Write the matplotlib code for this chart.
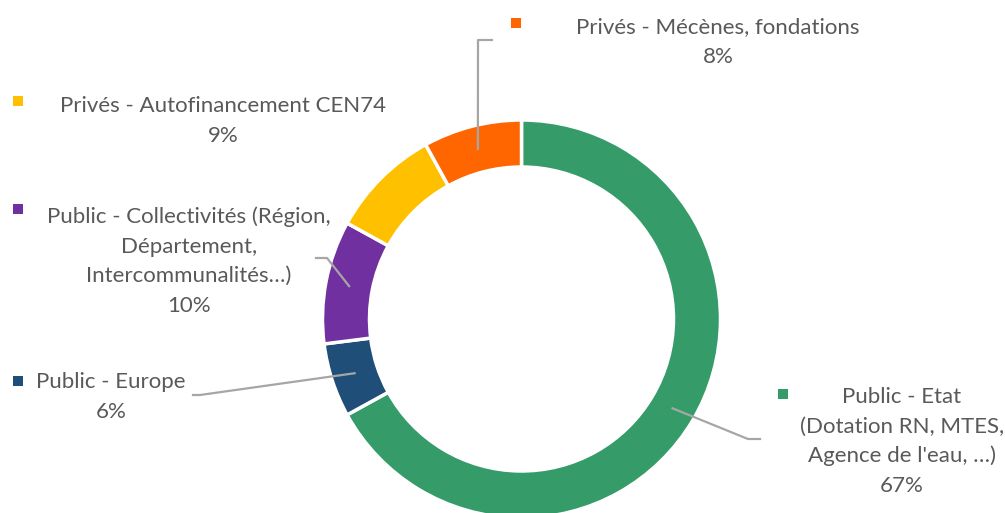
import numpy as np
import matplotlib
matplotlib.use("Agg")
import matplotlib.pyplot as plt

# ---- data ----
categories = [
    "Public - Etat\n(Dotation RN, MTES,\nAgence de l'eau, …)",
    "Public - Europe",
    "Public - Collectivités (Région,\nDépartement,\nIntercommunalités…)",
    "Privés - Autofinancement CEN74",
    "Privés - Mécènes, fondations",
]
values = [67, 6, 10, 9, 8]
colors = ["#359B69", "#1F4E79", "#7030A0", "#FFC000", "#FF6600"]

W, H = 1005, 513
fig = plt.figure(figsize=(W / 100, H / 100), dpi=100)
ax = fig.add_axes([0, 0, 1, 1])


def Y(y):
    return H - y


cx, cy = 521.5, 319
R = 199
width = 47
ax.pie(values, colors=colors, startangle=90, counterclock=False,
       center=(cx, Y(cy)), radius=R,
       wedgeprops=dict(width=width, edgecolor="white", linewidth=2.5),
       frame=True)
ax.set_xlim(0, W)
ax.set_ylim(0, H)
ax.set_aspect("equal")
ax.axis("off")

txt_color = "#595959"
line_color = "#A6A6A6"
font = "Lato"
fs = 16

# label layout: (text center x, first line y, square x, square y, elbow points)
layout = [
    (902, 397, 783, 394, [(748, 439), (760, 439)]),
    (111, 382, 18, 381, [(200, 395), (193, 395)]),
    (189, 217, 18, 209, [(327, 258), (316, 258)]),
    (223, 106, 18, 101, None),
    (718, 27, 516, 23, [(478, 40), (492, 40)]),
]

total = sum(values)
start = 90.0
for cat, val, col, (tx, ty, sx, sy, elbow) in zip(categories, values, colors, layout):
    span = 360.0 * val / total
    mid = np.deg2rad(start - span / 2)
    start -= span
    lines = cat.split("\n") + [f"{round(100 * val / total)}%"]
    for i, ln in enumerate(lines):
        ax.text(tx, Y(ty + i * 29.6), ln, ha="center", va="center",
                fontsize=fs, family=font, color=txt_color)
    ax.scatter([sx], [Y(sy)], marker="s", s=60, color=col, linewidths=0, zorder=5)
    if elbow:
        rm = R - width / 2
        x0 = cx + rm * np.cos(mid)
        y0 = Y(cy) + rm * np.sin(mid)
        xs = [x0] + [p[0] for p in elbow]
        ys = [y0] + [Y(p[1]) for p in elbow]
        ax.plot(xs, ys, color=line_color, lw=1.6, zorder=4)

fig.savefig("out.png", dpi=100, facecolor="white")
